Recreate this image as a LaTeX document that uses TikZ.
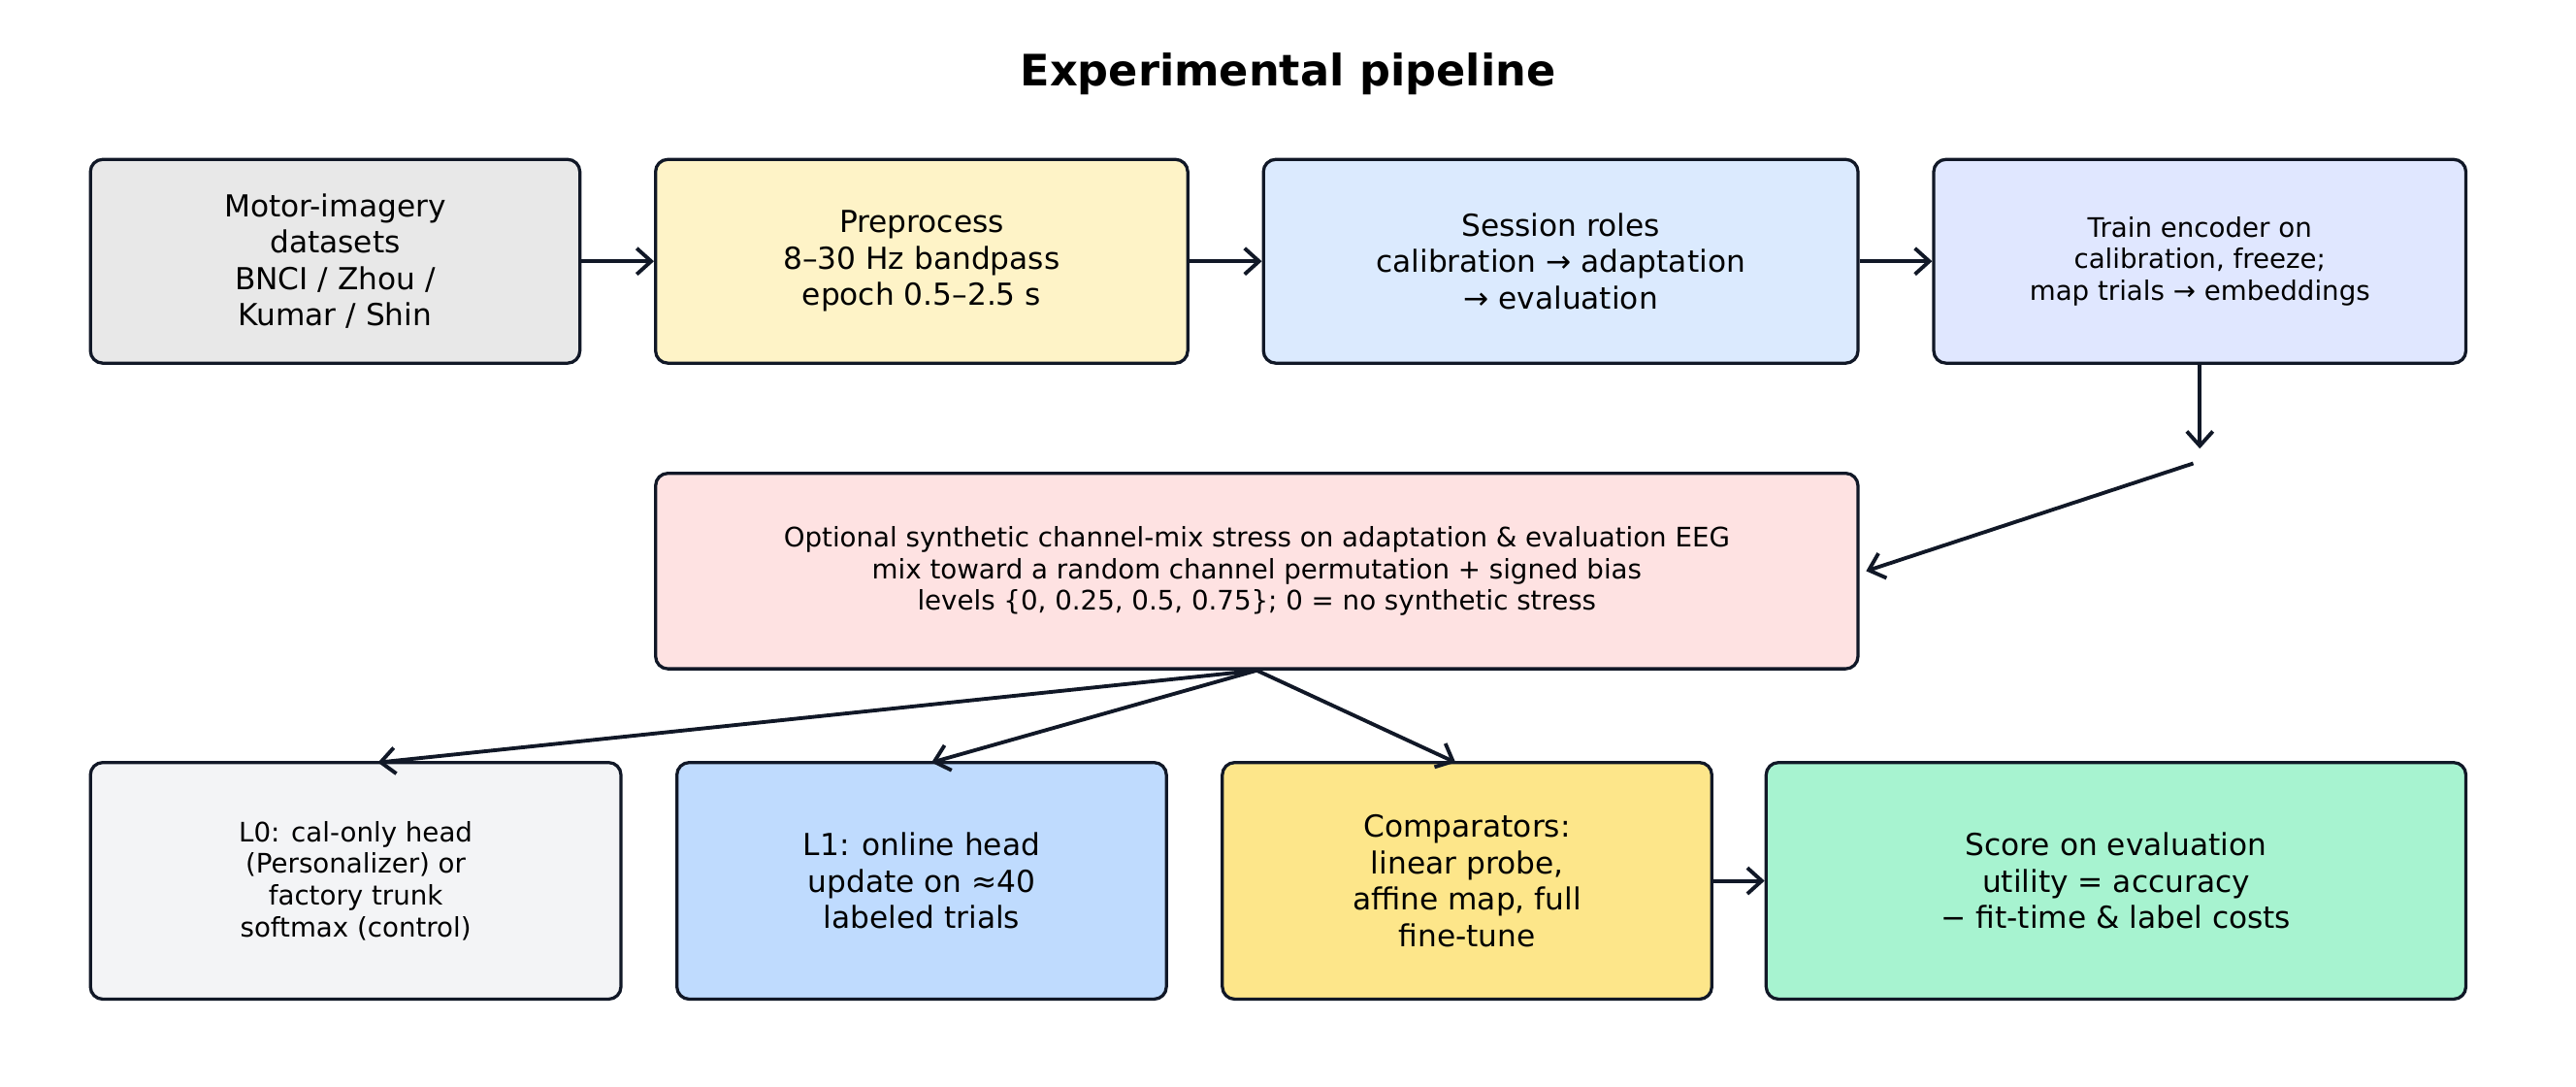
\documentclass[tikz,border=0pt]{standalone}
\usepackage{fontspec}
\setmainfont{DejaVu Sans}
\usetikzlibrary{arrows.meta,calc}
\definecolor{edge}{HTML}{111827}
\begin{document}
\begin{tikzpicture}[x=0.02cm,y=-0.02cm,
  box/.style={draw=edge,line width=1.1pt,rounded corners=0.15cm,align=center,inner sep=2pt,font=\fontsize{10.5}{12.6}\selectfont},
  small/.style={font=\fontsize{9.3}{11}\selectfont},
  conn/.style={draw=edge,line width=1.3pt,-{Straight Barb[length=5pt,width=9pt,line width=1.3pt]}}]
\useasboundingbox (0,0) rectangle (1568,661);
\node[font=\fontsize{15}{18}\selectfont\bfseries] (title) at (784,45) {Experimental pipeline};
\node[box,fill=gray!18,minimum width=5.96cm,minimum height=2.48cm] (b1) at (204,159) {Motor-imagery\\datasets\\BNCI / Zhou /\\Kumar / Shin};
\node[box,fill={rgb,255:red,254;green,243;blue,199},minimum width=6.48cm,minimum height=2.48cm] (b2) at (561,159) {Preprocess\\8–30 Hz bandpass\\epoch 0.5–2.5 s};
\node[box,fill={rgb,255:red,219;green,234;blue,254},minimum width=7.24cm,minimum height=2.48cm] (b3) at (950,159) {Session roles\\calibration → adaptation\\→ evaluation};
\node[box,small,fill={rgb,255:red,224;green,231;blue,255},minimum width=6.48cm,minimum height=2.48cm] (b4) at (1339,159) {Train encoder on\\calibration, freeze;\\map trials → embeddings};
\node[box,small,fill={rgb,255:red,254;green,226;blue,226},minimum width=14.64cm,minimum height=2.38cm] (mid) at (765,347.5) {Optional synthetic channel-mix stress on adaptation \& evaluation EEG\\mix toward a random channel permutation + signed bias\\levels \{0, 0.25, 0.5, 0.75\}; 0 = no synthetic stress};
\node[box,small,fill={rgb,255:red,243;green,244;blue,246},minimum width=6.46cm,minimum height=2.88cm] (l0) at (216.5,536) {L0: cal-only head\\(Personalizer) or\\factory trunk\\softmax (control)};
\node[box,fill={rgb,255:red,191;green,219;blue,254},minimum width=5.96cm,minimum height=2.88cm] (l1) at (561,536) {L1: online head\\update on ≈40\\labeled trials};
\node[box,fill={rgb,255:red,253;green,230;blue,138},minimum width=5.96cm,minimum height=2.88cm] (cmp) at (893,536) {Comparators:\\linear probe,\\affine map, full\\fine-tune};
\node[box,fill={rgb,255:red,167;green,243;blue,208},minimum width=8.52cm,minimum height=2.88cm] (sc) at (1288,536) {Score on evaluation\\utility = accuracy\\− fit-time \& label costs};
\draw[conn] (b1) -- (b2);
\draw[conn] (b2) -- (b3);
\draw[conn] (b3) -- (b4);
\coordinate (bend) at (1335,282);
\draw[conn] (b4.south) -- (1339,273);
\draw[conn] (bend) -- ($(mid.east)+(4,0)$);
\draw[conn] (mid.south) -- (230,464);
\draw[conn] (mid.south) -- (567,464);
\draw[conn] (mid.south) -- (886,464);
\draw[conn] (cmp) -- (sc);
\end{tikzpicture}
\end{document}
